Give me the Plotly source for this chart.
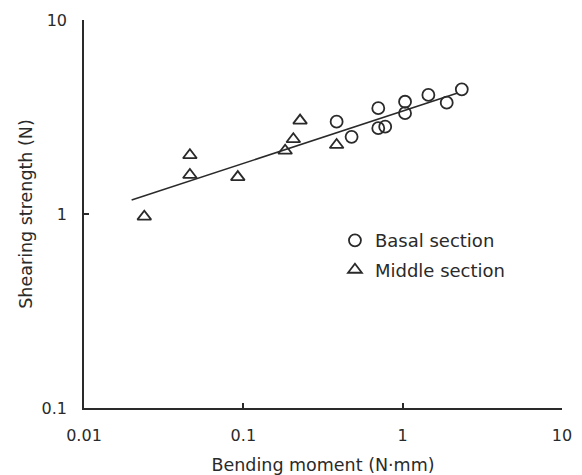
import plotly.graph_objects as go

# Basal section (circles)
basal_x = [0.385, 0.478, 0.703, 0.703, 0.777, 1.035, 1.035, 1.45, 1.89, 2.35]
basal_y = [2.99, 2.50, 3.51, 2.77, 2.82, 3.79, 3.31, 4.11, 3.75, 4.39]

# Middle section (triangles)
middle_x = [0.0239, 0.0462, 0.0462, 0.0923, 0.183, 0.206, 0.227, 0.385]
middle_y = [0.969, 2.01, 1.59, 1.55, 2.12, 2.43, 3.03, 2.27]

# Regression line end points
fit_x = [0.0199, 2.19]
fit_y = [1.18, 4.19]

x_ticks = [0.01, 0.1, 1, 10]
x_ticktext = ["0.01", "0.1", "1", "10"]
y_ticks = [0.1, 1, 10]
y_ticktext = ["0.1", "1", "10"]

FONT = "DejaVu Sans, sans-serif"
INK = "#2a2a2a"

fig = go.Figure()
fig.add_trace(go.Scatter(x=fit_x, y=fit_y, mode="lines",
                         line=dict(color=INK, width=1.6), showlegend=False,
                         hoverinfo="skip"))
fig.add_trace(go.Scatter(x=basal_x, y=basal_y, mode="markers", name="Basal section",
                         legendgroup="b",
                         marker=dict(symbol="circle-open", size=12,
                                     line=dict(color=INK, width=1.8), color=INK)))
fig.add_trace(go.Scatter(x=middle_x, y=middle_y, mode="markers", name="Middle section",
                         legendgroup="m",
                         marker=dict(symbol="triangle-up-open", size=12,
                                     line=dict(color=INK, width=1.8), color=INK)))

axis_common = dict(showline=True, linecolor=INK, linewidth=1.5, ticks="inside",
                   ticklen=5, tickwidth=1.5, tickcolor=INK, showgrid=False,
                   zeroline=False, mirror=False, automargin=False,
                   tickfont=dict(family=FONT, size=16, color=INK))

fig.update_xaxes(type="log", range=[-2, 1], tickvals=x_ticks, ticktext=x_ticktext,
                 ticklabelstandoff=12,
                 title=dict(text="Bending moment (N·mm)", standoff=15,
                            font=dict(family=FONT, size=17.5, color=INK)),
                 **axis_common)
fig.update_yaxes(type="log", range=[-1, 1], tickvals=y_ticks, ticktext=y_ticktext,
                 ticklabelstandoff=12,
                 title=dict(text="Shearing strength (N)", standoff=4,
                            font=dict(family=FONT, size=17.5, color=INK)),
                 **axis_common)

fig.update_layout(
    width=582, height=475,
    margin=dict(l=84, r=20, t=20, b=67),
    plot_bgcolor="white", paper_bgcolor="white",
    showlegend=True,
    legend=dict(x=0.525, y=0.479, xanchor="left", yanchor="top",
                bgcolor="rgba(0,0,0,0)", itemwidth=30, tracegroupgap=3,
                traceorder="grouped",
                font=dict(family=FONT, size=18, color=INK)),
)

fig.write_html("out.html")
